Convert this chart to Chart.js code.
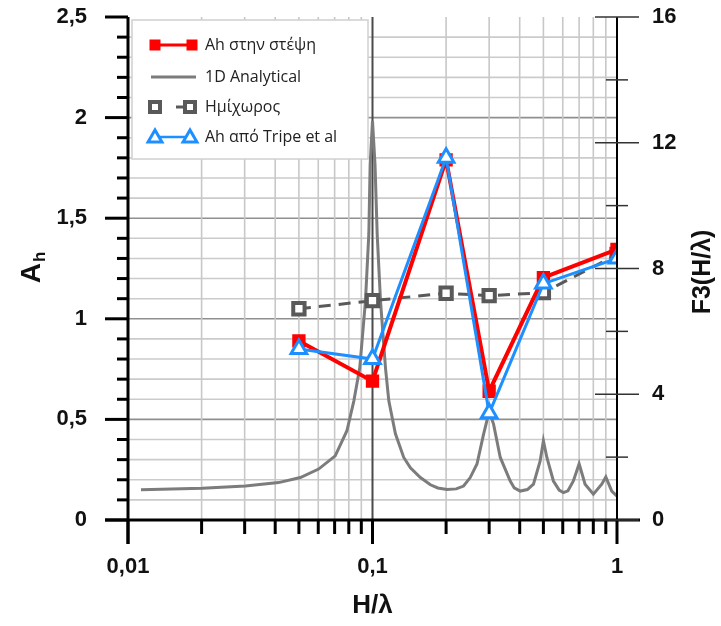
<!DOCTYPE html>
<html><head><meta charset="utf-8">
<script src="https://cdn.jsdelivr.net/npm/chart.js@4.4.0/dist/chart.umd.min.js"></script>
<style>html,body{margin:0;padding:0;background:#fff}canvas{display:block}</style>
</head><body>
<canvas id="c" width="721" height="626"></canvas>
<script>
// ---- data ----
const pointX = [0.05, 0.1, 0.2, 0.3, 0.5, 1];
const ahCrest = [0.89, 0.69, 1.79, 0.64, 1.205, 1.345];
const halfSpace = [1.05, 1.09, 1.127, 1.115, 1.13, 1.32];
const ahTripe = [0.85, 0.80, 1.80, 0.53, 1.175, 1.30];
const analyticX = [0.0113,0.0201,0.0302,0.0413,0.0507,0.0602,0.0704,0.0786,0.0839,0.0887,0.0936,0.0966,0.0978,0.1,0.1024,0.1045,0.1078,0.113,0.1166,0.1241,0.1342,0.1429,0.157,0.1725,0.185,0.2018,0.22,0.2358,0.251,0.2675,0.2847,0.3,0.3127,0.3331,0.3659,0.38,0.4019,0.43,0.4554,0.485,0.5,0.5166,0.5495,0.58,0.6036,0.63,0.6631,0.7,0.7404,0.8005,0.8662,0.9,0.9515,1.0];
const analyticF3 = [0.96,1.01,1.08,1.19,1.35,1.62,2.04,2.84,3.79,4.84,6.98,9.1,11.3,12.7,11.3,9.1,6.98,4.84,3.79,2.74,1.99,1.66,1.35,1.12,1.02,0.97,0.99,1.08,1.35,1.78,2.73,3.45,3.05,1.99,1.24,1.02,0.92,0.97,1.14,1.88,2.52,1.99,1.24,0.95,0.87,0.93,1.24,1.79,1.14,0.82,1.14,1.37,0.92,0.76];
const xTickValues = [0.01, 0.1, 1];
const xTickLabels = ['0,01', '0,1', '1'];
const yTickValues = [0, 0.5, 1, 1.5, 2, 2.5];
const yTickLabels = ['0', '0,5', '1', '1,5', '2', '2,5'];
const y2TickValues = [0, 4, 8, 12, 16];
const y2TickLabels = ['0', '4', '8', '12', '16'];
const seriesNames = ['Ah στην στέψη', '1D Analytical', 'Ημίχωρος', 'Ah από Tripe et al'];
const axisTitles = { x: 'H/λ', yMain: 'A', ySub: 'h', y2: 'F3(H/λ)' };

// ---- styles ----
const RED = '#ff0000', BLUE = '#1e8fff', CURVE = '#7c7c7c', HALF = '#595959';

const pts = (xs, ys) => xs.map((x, i) => ({ x: x, y: ys[i] }));

const gridPlugin = {
  id: 'grid',
  beforeDatasetsDraw(chart) {
    const { ctx, chartArea: a, scales } = chart;
    const x = scales.x, y = scales.y;
    ctx.save();
    ctx.lineWidth = 1.6;
    for (let i = 1; i < 25; i++) {
      const py = y.getPixelForValue(i / 10);
      ctx.strokeStyle = (i % 5 === 0) ? '#8f8f8f' : '#cbcbcb';
      ctx.beginPath(); ctx.moveTo(a.left, py); ctx.lineTo(a.right, py); ctx.stroke();
    }
    ctx.strokeStyle = '#c8c8c8';
    [0.01, 0.1].forEach(d => {
      for (let k = 2; k <= 9; k++) {
        const px = x.getPixelForValue(k * d);
        ctx.beginPath(); ctx.moveTo(px, a.top); ctx.lineTo(px, a.bottom); ctx.stroke();
      }
    });
    ctx.strokeStyle = '#4a4a4a'; ctx.lineWidth = 2;
    const p1 = x.getPixelForValue(0.1);
    ctx.beginPath(); ctx.moveTo(p1, a.top); ctx.lineTo(p1, a.bottom); ctx.stroke();
    ctx.restore();
  }
};

function drawSquare(ctx, cx, cy, s, fill, stroke, lw) {
  ctx.beginPath(); ctx.rect(cx - s / 2, cy - s / 2, s, s);
  if (fill) { ctx.fillStyle = fill; ctx.fill(); }
  if (stroke) { ctx.strokeStyle = stroke; ctx.lineWidth = lw; ctx.stroke(); }
}
function drawTri(ctx, cx, cy, r, fill, stroke, lw) {
  ctx.beginPath();
  for (let i = 0; i < 3; i++) {
    const ang = -Math.PI / 2 + i * 2 * Math.PI / 3;
    const px = cx + r * Math.cos(ang), py = cy + r * Math.sin(ang);
    if (i === 0) ctx.moveTo(px, py); else ctx.lineTo(px, py);
  }
  ctx.closePath();
  ctx.fillStyle = fill; ctx.fill();
  ctx.strokeStyle = stroke; ctx.lineWidth = lw; ctx.stroke();
}

const legendPlugin = {
  id: 'customLegend',
  afterDatasetsDraw(chart) {
    const ctx = chart.ctx;
    const bx = 132, by = 20, bw = 236, bh = 139;
    ctx.save();
    ctx.fillStyle = '#fff'; ctx.fillRect(bx, by, bw, bh);
    ctx.strokeStyle = '#d0d0d0'; ctx.lineWidth = 1.5; ctx.strokeRect(bx, by, bw, bh);
    const rows = [45, 77, 107, 137];
    const x0 = 151, x1 = 196;
    ctx.strokeStyle = RED; ctx.lineWidth = 3;
    ctx.beginPath(); ctx.moveTo(x0, rows[0]); ctx.lineTo(x1, rows[0]); ctx.stroke();
    drawSquare(ctx, x0 + 4, rows[0], 11, RED);
    drawSquare(ctx, x1 - 4, rows[0], 11, RED);
    ctx.strokeStyle = CURVE; ctx.lineWidth = 3;
    ctx.beginPath(); ctx.moveTo(x0, rows[1]); ctx.lineTo(x1, rows[1]); ctx.stroke();
    drawSquare(ctx, 155, rows[2], 10, '#fff', HALF, 4);
    ctx.strokeStyle = HALF; ctx.lineWidth = 3;
    ctx.beginPath(); ctx.moveTo(176, rows[2]); ctx.lineTo(184, rows[2]); ctx.stroke();
    drawSquare(ctx, 190, rows[2], 10, '#fff', HALF, 4);
    ctx.strokeStyle = BLUE; ctx.lineWidth = 2.5;
    ctx.beginPath(); ctx.moveTo(x0 + 4, rows[3]); ctx.lineTo(x1 - 6, rows[3]); ctx.stroke();
    drawTri(ctx, x0 + 4, rows[3] + 1, 8, '#fff', BLUE, 3);
    drawTri(ctx, x1 - 6, rows[3] + 1, 8, '#fff', BLUE, 3);
    ctx.fillStyle = '#222';
    ctx.font = '16px "Open Sans", sans-serif';
    ctx.textBaseline = 'middle'; ctx.textAlign = 'left';
    seriesNames.forEach((n, i) => ctx.fillText(n, 205, rows[i]));
    ctx.restore();
  }
};

const axesPlugin = {
  id: 'axesDeco',
  afterDraw(chart) {
    const { ctx, chartArea: a, scales } = chart;
    const x = scales.x, y = scales.y, y2 = scales.y2;
    ctx.save();
    ctx.strokeStyle = '#000';
    ctx.lineWidth = 3;
    ctx.beginPath(); ctx.moveTo(a.left, a.top); ctx.lineTo(a.left, a.bottom + 24); ctx.stroke();
    for (let i = 0; i <= 25; i++) {
      const py = y.getPixelForValue(i / 10);
      const len = (i % 5 === 0) ? 23 : 11;
      ctx.beginPath(); ctx.moveTo(a.left - len, py); ctx.lineTo(a.left, py); ctx.stroke();
    }
    ctx.beginPath(); ctx.moveTo(a.left - 23, a.bottom); ctx.lineTo(a.right + 23, a.bottom); ctx.stroke();
    [0.01, 0.1].forEach(d => {
      for (let k = 2; k <= 9; k++) {
        const px = x.getPixelForValue(k * d);
        ctx.beginPath(); ctx.moveTo(px, a.bottom); ctx.lineTo(px, a.bottom + 14); ctx.stroke();
      }
    });
    xTickValues.forEach(v => {
      const px = x.getPixelForValue(v);
      ctx.beginPath(); ctx.moveTo(px, a.bottom); ctx.lineTo(px, a.bottom + 24); ctx.stroke();
    });
    ctx.lineWidth = 2;
    ctx.beginPath(); ctx.moveTo(a.right, a.top); ctx.lineTo(a.right, a.bottom + 24); ctx.stroke();
    ctx.strokeStyle = '#333'; ctx.lineWidth = 1.5;
    for (let v = 0; v <= 16; v += 2) {
      const py = y2.getPixelForValue(v);
      const major = v % 4 === 0;
      ctx.beginPath();
      if (major) { ctx.moveTo(a.right - 22, py); ctx.lineTo(a.right + 22, py); }
      else { ctx.moveTo(a.right - 11, py); ctx.lineTo(a.right + 11, py); }
      ctx.stroke();
    }
    ctx.fillStyle = '#111';
    ctx.textAlign = 'center'; ctx.textBaseline = 'middle';
    ctx.font = 'bold 26px "Liberation Sans", Arial, sans-serif';
    ctx.fillText(axisTitles.x, x.getPixelForValue(0.1), 606);
    ctx.save();
    ctx.translate(703, 272); ctx.rotate(-Math.PI / 2);
    ctx.font = 'bold 25px "Liberation Sans", Arial, sans-serif';
    ctx.fillText(axisTitles.y2, 0, 0);
    ctx.restore();
    ctx.save();
    ctx.translate(30, 268); ctx.rotate(-Math.PI / 2);
    ctx.font = 'bold 28px "Liberation Sans", Arial, sans-serif';
    const wA = ctx.measureText(axisTitles.yMain).width;
    ctx.font = 'bold 17px "Liberation Sans", Arial, sans-serif';
    const wh = ctx.measureText(axisTitles.ySub).width;
    const start = -(wA + wh) / 2;
    ctx.textAlign = 'left'; ctx.textBaseline = 'alphabetic';
    ctx.font = 'bold 28px "Liberation Sans", Arial, sans-serif';
    ctx.fillText(axisTitles.yMain, start, 10);
    ctx.font = 'bold 17px "Liberation Sans", Arial, sans-serif';
    ctx.fillText(axisTitles.ySub, start + wA + 1, 15);
    ctx.restore();
    ctx.restore();
  }
};

const tickFont = { family: '"Liberation Sans", Arial, sans-serif', size: 22, weight: 'bold' };

new Chart(document.getElementById('c'), {
  type: 'line',
  data: {
    datasets: [
      { label: seriesNames[3], data: pts(pointX, ahTripe), yAxisID: 'y', order: 0,
        borderColor: BLUE, borderWidth: 3, backgroundColor: '#fff',
        pointStyle: 'triangle', pointRadius: 9, pointBorderWidth: 3,
        pointBackgroundColor: '#fff', pointBorderColor: BLUE, tension: 0 },
      { label: seriesNames[0], data: pts(pointX, ahCrest), yAxisID: 'y', order: 1,
        borderColor: RED, borderWidth: 4, backgroundColor: RED,
        pointStyle: 'rect', pointRadius: 8, pointBorderWidth: 2,
        pointBackgroundColor: RED, pointBorderColor: RED, tension: 0 },
      { label: seriesNames[2], data: pts(pointX, halfSpace), yAxisID: 'y', order: 2,
        borderColor: HALF, borderWidth: 3, borderDash: [12, 8],
        pointStyle: 'rect', pointRadius: 8, pointBorderWidth: 4,
        pointBackgroundColor: '#fff', pointBorderColor: HALF, tension: 0 },
      { label: seriesNames[1], data: pts(analyticX, analyticF3), yAxisID: 'y2', order: 3,
        borderColor: CURVE, borderWidth: 3, pointRadius: 0, tension: 0 }
    ]
  },
  options: {
    responsive: false, animation: false, devicePixelRatio: 1,
    layout: { padding: { top: 17, left: 0, right: 0, bottom: 0 } },
    plugins: { legend: { display: false }, tooltip: { enabled: false } },
    scales: {
      x: {
        type: 'logarithmic', position: 'bottom', min: 0.01, max: 1,
        grid: { display: false, drawTicks: false }, border: { display: false },
        afterBuildTicks: s => { s.ticks = xTickValues.map(v => ({ value: v })); },
        afterFit: s => { s.height = 106; s.paddingLeft = 0; s.paddingRight = 0; },
        ticks: { autoSkip: false, maxRotation: 0, minRotation: 0, padding: 34,
          color: '#111', font: tickFont, callback: (v, i) => xTickLabels[i] }
      },
      y: {
        type: 'linear', position: 'left', min: 0, max: 2.5,
        grid: { display: false, drawTicks: false }, border: { display: false },
        afterBuildTicks: s => { s.ticks = yTickValues.map(v => ({ value: v })); },
        afterFit: s => { s.width = 128; s.paddingTop = 0; s.paddingBottom = 0; },
        ticks: { autoSkip: false, padding: 41, color: '#111', font: tickFont,
          callback: (v, i) => yTickLabels[i] }
      },
      y2: {
        type: 'linear', position: 'right', min: 0, max: 16,
        grid: { display: false, drawTicks: false }, border: { display: false },
        afterBuildTicks: s => { s.ticks = y2TickValues.map(v => ({ value: v })); },
        afterFit: s => { s.width = 104; s.paddingTop = 0; s.paddingBottom = 0; },
        ticks: { autoSkip: false, padding: 35, color: '#111', font: tickFont,
          callback: (v, i) => y2TickLabels[i] }
      }
    }
  },
  plugins: [gridPlugin, legendPlugin, axesPlugin]
});
</script>
</body></html>
